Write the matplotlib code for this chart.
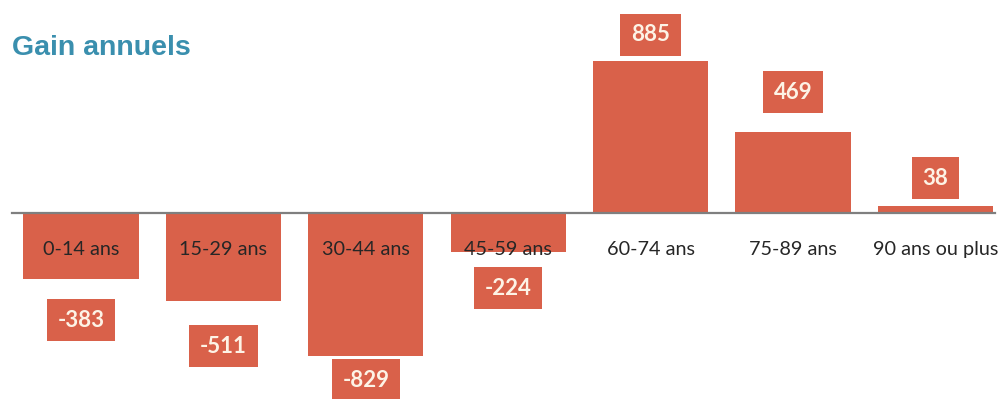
import matplotlib.pyplot as plt

# Gains annuels par tranche d'âge
categories = ['0-14 ans', '15-29 ans', '30-44 ans', '45-59 ans',
              '60-74 ans', '75-89 ans', '90 ans ou plus']
gains = [-383, -511, -829, -224, 885, 469, 38]

# vertical offset of each value box from the bar end (data units)
label_offsets = [-239, -262, -142, -212, 150, 234, 165]

bar_color = '#d9614a'

fig = plt.figure(figsize=(9.98, 3.99), dpi=100)
ax = fig.add_axes([0, 0, 1, 1])

x = list(range(len(categories)))
ax.bar(x, gains, width=0.81, color=bar_color, zorder=2)
ax.axhline(0, xmin=12 / 998, xmax=995 / 998, color='#7f7f7f', lw=1.6, zorder=3)

for i, (cat, val, off) in enumerate(zip(categories, gains, label_offsets)):
    ax.text(i, -212, cat, ha='center', va='center', fontsize=14.3,
            family='Lato', color='#262626', zorder=4)
    ax.text(i, val + off, f'{val}', ha='center', va='center', fontsize=16,
            family='Lato', fontweight='bold', color='#fdf3e6', zorder=4,
            bbox=dict(boxstyle='square,pad=0.48', fc=bar_color, ec='none'))

ax.set_xlim(-0.569, 6.44)
ax.set_ylim(-1081, 1238)
ax.axis('off')

fig.text(12 / 998, 1 - 48 / 399, 'Gain annuels', ha='left', va='center',
         fontsize=20.5, family='Liberation Sans', fontweight='bold', color='#3a8fae')

fig.savefig('out.png', dpi=100, facecolor='white')
